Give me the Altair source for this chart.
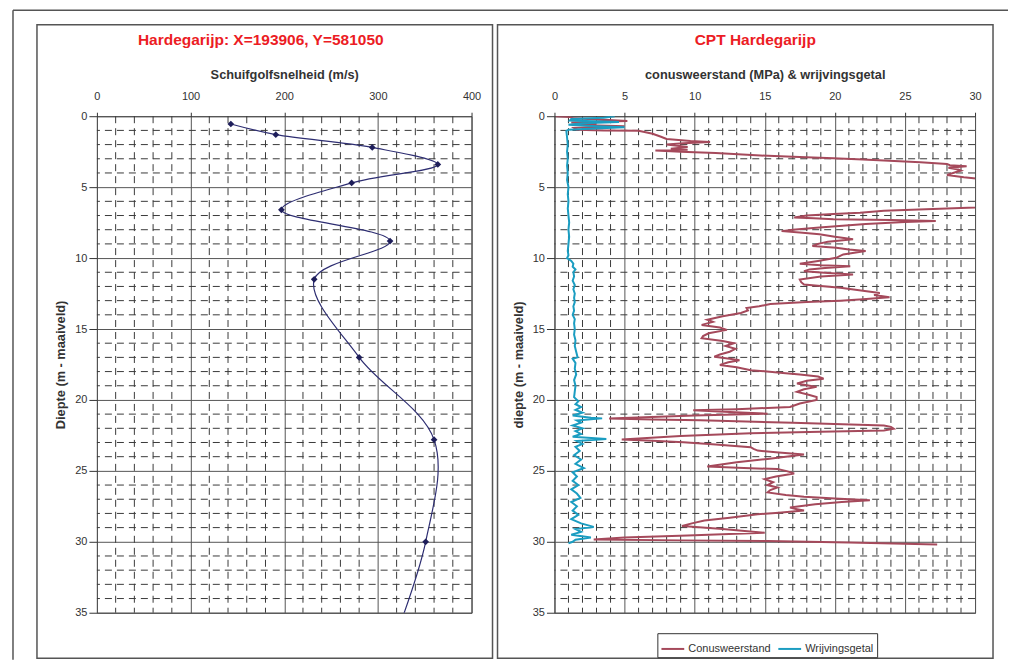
import altair as alt
import pandas as pd

FONT = "Liberation Sans"
TITLE_RED = "#EC1C24"
TXT = "#333333"
GRID = "#555555"
MINOR = "#3a3a3a"
FRAME = "#555555"

# ---------------- data ----------------
# Left panel: shear-wave velocity profile (depth m, velocity m/s)
vs_depth = [0.55, 1.3, 2.2, 3.4, 4.7, 6.6, 8.8, 11.5, 17.0, 22.8, 30.0, 40.0]
vs_value = [143, 191, 294, 364, 272, 197, 313, 232, 280, 360, 351, 300]

# Right panel: cone resistance (MPa)
cone_depth = [0.0, 0.05, 0.15, 0.25, 0.33, 0.45, 0.55, 0.62, 0.7, 0.82, 0.95, 1.0, 1.02,
              1.24, 1.45, 1.6, 1.75, 1.82, 1.9, 2.0, 2.1, 2.17, 2.3, 2.36, 2.41, 2.5, 2.6,
              2.77, 2.85, 2.96, 3.05, 3.12, 3.24, 3.36, 3.45, 3.52, 3.64, 3.75, 3.83, 3.95,
              4.14, 4.3, 4.42, 4.6, 5.5, 6.3, 6.43, 6.55, 6.67, 6.8, 6.9, 7.0, 7.14, 7.2,
              7.26, 7.32, 7.38, 7.45, 7.6, 7.85, 8.0, 8.1, 8.2, 8.32, 8.5, 8.68, 8.85, 9.0,
              9.15, 9.27, 9.4, 9.5, 9.6, 9.74, 9.98, 10.2, 10.4, 10.5, 10.57, 10.7, 10.8,
              10.93, 11.05, 11.16, 11.3, 11.51, 11.7, 11.87, 12.1, 12.3, 12.46, 12.6, 12.76,
              12.9, 13.0, 13.1, 13.24, 13.4, 13.52, 13.7, 13.87, 14.1, 14.35, 14.5, 14.71,
              14.9, 15.06, 15.3, 15.5, 15.65, 15.85, 16.0, 16.2, 16.4, 16.6, 16.8, 16.95,
              17.1, 17.2, 17.35, 17.54, 17.7, 17.9, 18.06, 18.2, 18.35, 18.5, 18.65, 18.84,
              19.0, 19.08, 19.25, 19.43, 19.6, 19.79, 20.0, 20.25, 20.5, 20.65, 20.73, 20.85,
              20.97, 21.1, 21.3, 21.38, 21.44, 21.6, 21.8, 21.9, 22.03, 22.15, 22.25, 22.34,
              22.55, 22.79, 22.88, 22.98, 23.15, 23.33, 23.45, 23.57, 23.7, 23.85, 24.0,
              24.16, 24.4, 24.7, 24.8, 24.87, 25.0, 25.18, 25.4, 25.58, 25.8, 26.0, 26.17,
              26.35, 26.52, 26.7, 26.83, 26.95, 27.07, 27.2, 27.35, 27.59, 27.7, 27.8, 27.95,
              28.06, 28.3, 28.5, 28.7, 28.89, 29.1, 29.36, 29.55, 29.7, 29.83, 29.9, 29.95,
              30.05, 30.19]
cone_value = [0.1, 1.1, 1.3, 3.5, 5.2, 1.2, 3.0, 1.8, 5.0, 1.4, 1.6, 3.5, 6.0,
              7.0, 7.6, 8.0, 9.7, 11.1, 9.2, 8.0, 8.9, 9.5, 8.3, 9.5, 7.2, 9.0, 11.5,
              14.7, 17.0, 19.9, 22.0, 23.5, 26.1, 28.0, 28.2, 29.4, 28.1, 28.8, 29.0, 28.6,
              28.0, 29.2, 30.3, 32.0, 32.0, 31.0, 30.0, 26.5, 23.5, 21.8, 19.9, 18.0, 17.1, 18.5,
              19.9, 24.0, 27.2, 25.0, 22.2, 18.9, 17.0, 16.2, 17.5, 18.9, 20.0, 21.3, 19.5, 18.8,
              18.4, 20.1, 21.0, 22.2, 21.5, 20.6, 20.1, 18.8, 17.5, 19.0, 21.1, 19.3, 18.2,
              17.8, 19.5, 21.3, 19.0, 17.5, 17.6, 17.8, 20.4, 22.0, 23.2, 22.8, 23.9,
              22.0, 20.4, 18.0, 15.4, 14.6, 13.7, 13.8, 13.3, 12.0, 10.9, 11.3, 10.5,
              11.8, 12.3, 11.0, 10.6, 10.5, 12.0, 12.8, 12.2, 12.9, 12.5, 11.8, 11.4,
              12.5, 13.2, 12.4, 11.8, 13.0, 14.0, 15.9, 17.5, 18.8, 19.2, 18.0, 17.3,
              18.2, 18.7, 17.8, 17.3, 18.0, 18.7, 18.7, 17.5, 16.8, 13.0, 9.9, 12.5,
              15.2, 10.0, 3.9, 7.0, 10.4, 17.0, 23.5, 24.0, 24.2, 23.5, 19.0, 14.0,
              9.0, 4.8, 7.0, 9.2, 11.5, 14.0, 14.2, 14.5, 16.0, 17.8, 16.5,
              15.2, 13.0, 10.9, 13.5, 15.9, 16.5, 17.1, 15.8, 15.0, 15.6, 15.2, 15.9,
              15.4, 15.2, 16.5, 17.8, 20.0, 22.5, 20.5, 18.6, 16.8, 17.3, 17.8, 16.0,
              14.5, 12.5, 10.7, 9.8, 9.1, 12.0, 15.0, 9.5, 5.0, 2.8, 9.0, 15.2,
              21.0, 27.3]

# Right panel: friction ratio
fr_depth = [0.0, 0.1, 0.2, 0.3, 0.4, 0.5, 0.6, 0.7, 0.78, 0.88, 0.95, 1.05,
            1.5, 2.0, 2.5, 3.0, 3.5, 4.0, 4.5, 5.0, 5.5, 6.0, 6.5, 7.0, 7.5, 8.0, 8.5,
            9.0, 9.5, 9.8, 10.0, 10.2, 10.4, 10.6, 10.8, 11.0, 11.3, 11.6, 11.9, 12.2,
            12.5, 12.8, 13.1, 13.4, 13.7, 14.0, 14.3, 14.6, 15.0, 15.4, 15.8, 16.2, 16.6,
            17.0, 17.1, 17.4, 17.8, 18.2, 18.6, 19.0, 19.4, 19.8, 20.1, 20.3, 20.5, 20.7,
            20.9, 21.1, 21.25, 21.3, 21.45, 21.6, 21.8, 22.0, 22.2, 22.4, 22.6, 22.75,
            22.9, 23.1, 23.3, 23.6, 23.9, 24.2, 24.5, 24.8, 25.1, 25.4, 25.7, 26.0, 26.3,
            26.6, 26.9, 27.2, 27.5, 27.8, 28.1, 28.4, 28.7, 28.95, 29.1, 29.3, 29.5, 29.7,
            29.85, 30.0, 30.1]
fr_value = [4.3, 3.5, 1.2, 1.1, 4.6, 2.0, 1.0, 3.0, 5.0, 2.5, 1.0, 0.85,
            0.9, 0.95, 0.9, 0.95, 0.9, 0.95, 0.9, 1.0, 0.95, 1.0, 0.95, 1.0, 1.05, 1.0, 1.05,
            1.0, 0.95, 1.0, 0.9, 1.2, 1.35, 1.3, 1.5, 1.35, 1.4, 1.3, 1.45, 1.35,
            1.45, 1.4, 1.45, 1.35, 1.4, 1.3, 1.45, 1.4, 1.45, 1.4, 1.5, 1.45, 1.55,
            1.65, 1.3, 1.5, 1.45, 1.55, 1.4, 1.5, 1.45, 1.4, 1.7, 1.5, 1.9, 1.5,
            2.0, 1.3, 2.6, 3.4, 1.6, 1.9, 1.3, 2.0, 1.5, 1.9, 1.3, 3.7,
            1.6, 2.0, 1.5, 1.8, 1.4, 1.9, 1.5, 2.1, 1.3, 1.6, 1.3, 1.7, 1.2,
            1.6, 1.85, 1.2, 1.6, 1.3, 1.7, 1.2, 1.9, 2.8, 1.5, 1.9, 1.2, 2.6,
            1.5, 1.3, 1.0]

series_names = ["Conusweerstand", "Wrijvingsgetal"]
series_colors = ["#A5495B", "#1B9DC1"]

left_x_ticks = [0, 100, 200, 300, 400]
left_x_minor = [20, 40, 60, 80, 120, 140, 160, 180, 220, 240, 260, 280, 320, 340, 360, 380]
right_x_ticks = [0, 5, 10, 15, 20, 25, 30]
right_x_minor = [1, 2, 3, 4, 6, 7, 8, 9, 11, 12, 13, 14, 16, 17, 18, 19, 21, 22, 23, 24,
                 26, 27, 28, 29]
depth_ticks = [0, 5, 10, 15, 20, 25, 30, 35]
depth_minor = [1, 2, 3, 4, 6, 7, 8, 9, 11, 12, 13, 14, 16, 17, 18, 19, 21, 22, 23, 24,
               26, 27, 28, 29, 31, 32, 33, 34]

left_title = "Hardegarijp: X=193906, Y=581050"
right_title = "CPT Hardegarijp"
left_xtitle = "Schuifgolfsnelheid (m/s)"
right_xtitle = "conusweerstand (MPa) & wrijvingsgetal"
left_ytitle = "Diepte (m - maaiveld)"
right_ytitle = "diepte (m - maaiveld)"

# ---------------- tables ----------------
vs_df = pd.DataFrame({"depth": vs_depth, "vs": vs_value})
cpt_df = pd.concat([
    pd.DataFrame({"depth": cone_depth, "val": cone_value, "serie": series_names[0],
                  "idx": list(range(len(cone_depth)))}),
    pd.DataFrame({"depth": fr_depth, "val": fr_value, "serie": series_names[1],
                  "idx": list(range(len(fr_depth)))}),
], ignore_index=True)
ONE = pd.DataFrame({"k": [0]})

LW, LH = 375, 497
RW, RH = 421, 497

depth_scale = alt.Scale(domain=[0, 35], reverse=True, nice=False, zero=False)
left_x_scale = alt.Scale(domain=[0, 400], nice=False)
right_x_scale = alt.Scale(domain=[0, 30], nice=False)

AXIS_TITLE_SIZE = 12.8


def x_axis(values, title):
    return alt.Axis(orient="top", values=values, title=title, grid=True,
                    gridColor=GRID, gridWidth=1, gridOpacity=1, domain=False,
                    ticks=True, tickSize=4, tickColor=TXT, labelPadding=16,
                    labelBaseline="middle", labelFlush=False, labelFont=FONT,
                    labelFontSize=11, labelColor=TXT, titleFont=FONT,
                    titleFontSize=AXIS_TITLE_SIZE, titleFontWeight="bold",
                    titleColor=TXT, titleY=-42, titleBaseline="middle", titlePadding=0)


def y_axis(title):
    return alt.Axis(values=depth_ticks, title=title, grid=True, gridColor=GRID,
                    gridWidth=1, gridOpacity=1, domain=False, ticks=True, tickSize=8,
                    tickColor=TXT, labelPadding=2, labelFlush=False, labelFont=FONT,
                    labelFontSize=11, labelColor=TXT, titleFont=FONT,
                    titleFontSize=AXIS_TITLE_SIZE, titleFontWeight="bold",
                    titleColor=TXT, titleX=-36, titleBaseline="middle", titleAngle=270)


LEFT_XAXIS = x_axis(left_x_ticks, left_xtitle)
RIGHT_XAXIS = x_axis(right_x_ticks, right_xtitle)
LEFT_YAXIS = y_axis(left_ytitle)
RIGHT_YAXIS = y_axis(right_ytitle)


def minor_grid(xvals, xscale, xaxis, yaxis):
    vx = alt.Chart(pd.DataFrame({"gx": xvals})).mark_rule(
        color=MINOR, strokeWidth=1, strokeDash=[7, 5]).encode(
        x=alt.X("gx:Q", scale=xscale, axis=xaxis))
    hy = alt.Chart(pd.DataFrame({"gy": depth_minor})).mark_rule(
        color=MINOR, strokeWidth=1, strokeDash=[7, 5]).encode(
        y=alt.Y("gy:Q", scale=depth_scale, axis=yaxis))
    return vx, hy


def frame(x1, x2, y1, y2):
    return alt.Chart(ONE).mark_rect(filled=False, stroke=FRAME, strokeWidth=1.5).encode(
        x=alt.value(x1), x2=alt.value(x2), y=alt.value(y1), y2=alt.value(y2))


def title_text(text, x, y):
    return alt.Chart(ONE).mark_text(text=text, font=FONT, fontSize=15.5, fontWeight="bold",
                                    color=TITLE_RED, align="center",
                                    baseline="middle").encode(
        x=alt.value(x), y=alt.value(y))


# ---------------- left panel ----------------
outer_top = alt.Chart(ONE).mark_rule(color=FRAME, strokeWidth=1.5).encode(
    x=alt.value(-84), x2=alt.value(912), y=alt.value(-106))
outer_left = alt.Chart(ONE).mark_rule(color=FRAME, strokeWidth=1.5).encode(
    x=alt.value(-84), y=alt.value(-106), y2=alt.value(544))

lvx, lhy = minor_grid(left_x_minor, left_x_scale, LEFT_XAXIS, LEFT_YAXIS)

vs_line = alt.Chart(vs_df).mark_line(interpolate="catmull-rom", color="#2E2E72",
                                     strokeWidth=1.2, clip=True).encode(
    x=alt.X("vs:Q", scale=left_x_scale, axis=LEFT_XAXIS),
    y=alt.Y("depth:Q", scale=depth_scale, axis=LEFT_YAXIS),
    order=alt.Order("depth:Q"))
vs_pts = alt.Chart(vs_df).mark_point(shape="diamond", filled=True, size=45,
                                     color="#1E1E5A", opacity=1, clip=True).encode(
    x=alt.X("vs:Q", scale=left_x_scale, axis=LEFT_XAXIS),
    y=alt.Y("depth:Q", scale=depth_scale, axis=LEFT_YAXIS))

left = alt.layer(
    outer_top, outer_left,
    frame(-60, 396, -91.5, 542.5),
    title_text(left_title, 164, -76),
    lvx, lhy, vs_line, vs_pts,
).properties(width=LW, height=LH)

# ---------------- right panel ----------------
rvx, rhy = minor_grid(right_x_minor, right_x_scale, RIGHT_XAXIS, RIGHT_YAXIS)

cpt_line = alt.Chart(cpt_df).mark_line(strokeWidth=2, clip=True).encode(
    x=alt.X("val:Q", scale=right_x_scale, axis=RIGHT_XAXIS),
    y=alt.Y("depth:Q", scale=depth_scale, axis=RIGHT_YAXIS),
    color=alt.Color("serie:N",
                    scale=alt.Scale(domain=series_names, range=series_colors),
                    legend=alt.Legend(orient="none", legendX=103, legendY=517.5,
                                      direction="horizontal", title=None,
                                      symbolType="stroke", symbolStrokeWidth=2,
                                      symbolSize=520, labelFont=FONT, labelFontSize=11,
                                      labelColor=TXT, strokeColor=TXT, fillColor="white",
                                      padding=3, columnPadding=3, labelOffset=3,
                                      cornerRadius=0)),
    order=alt.Order("idx:Q"))

right = alt.layer(
    frame(-57, 439, -91.5, 542.5),
    title_text(right_title, 201, -76),
    rvx, rhy, cpt_line,
).properties(width=RW, height=RH)

chart = alt.hconcat(left, right, spacing=83, bounds="flush").resolve_scale(
    color="independent"
).properties(
    padding={"left": 3, "top": 0, "right": 0, "bottom": 0}
).configure(font=FONT).configure_view(stroke="#333333", strokeWidth=1)

chart.save("out.html", embed_options={"renderer": "svg", "actions": False})
